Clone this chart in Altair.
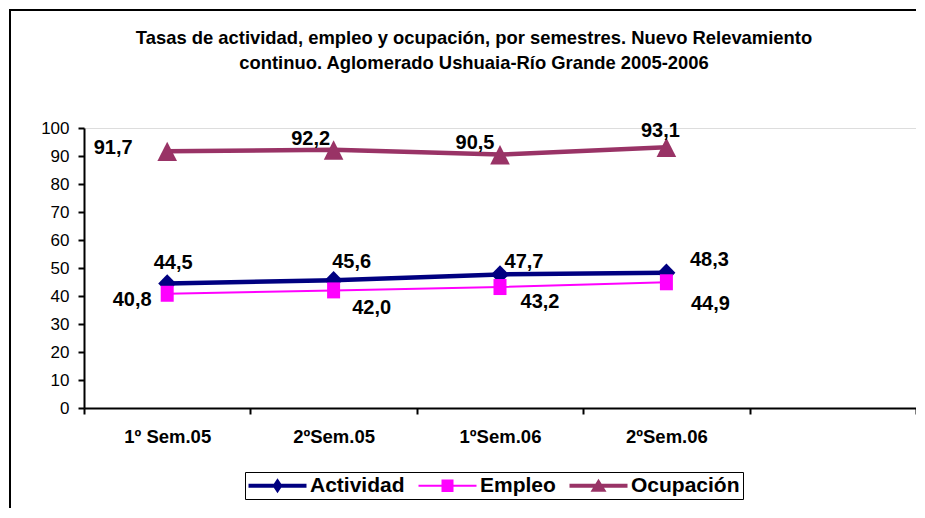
import altair as alt
import pandas as pd

# ---- data ----
semestres = ["1º Sem.05", "2ºSem.05", "1ºSem.06", "2ºSem.06"]
categoria_vacia = " "
series = ["Actividad", "Empleo", "Ocupación"]
actividad = [44.5, 45.6, 47.7, 48.3]
empleo = [40.8, 42.0, 43.2, 44.9]
ocupacion = [91.7, 92.2, 90.5, 93.1]

# manual data-label placement (pixel offsets from each point)
lab_dx_actividad = [6, 18, 24, 43]
lab_dy_actividad = [-20, -18, -12, -13]
lab_dx_empleo = [-35, 38, 40, 44]
lab_dy_empleo = [6, 18, 15, 22]
lab_dx_ocupacion = [-54, -23, -25, -6]
lab_dy_ocupacion = [-3, -11, -12, -16]

# ---- styles ----
colores = ["#000080", "#FF00FF", "#993366"]
grosores = [4.5, 2, 4.5]
marcadores = [
    "M0,-0.92L0.9,0L0,0.92L-0.9,0Z",
    "M-0.65,-0.8H0.65V0.8H-0.65Z",
    "M0,-0.95L0.98,0.98H-0.98Z",
]
simbolos_leyenda = [
    "M-2.9,-0.2H2.9V0.2H-2.9Z M0,-0.75L0.5,0L0,0.75L-0.5,0Z",
    "M-2.9,-0.1H2.9V0.1H-2.9Z M-0.6,-0.62H0.6V0.62H-0.6Z",
    "M-2.9,-0.2H2.9V0.2H-2.9Z M0,-0.7L0.8,0.6H-0.8Z",
]
FONT = "Liberation Sans"
W, H = 832, 280

valores = {"Actividad": actividad, "Empleo": empleo, "Ocupación": ocupacion}
offs = {
    "Actividad": (lab_dx_actividad, lab_dy_actividad),
    "Empleo": (lab_dx_empleo, lab_dy_empleo),
    "Ocupación": (lab_dx_ocupacion, lab_dy_ocupacion),
}
rows = []
for k, s in enumerate(series):
    for i, sem in enumerate(semestres):
        rows.append({"serie": s, "orden": k, "punto": i, "semestre": sem,
                     "valor": valores[s][i]})
df = pd.DataFrame(rows)

x_enc = alt.X(
    "semestre:N",
    bandPosition=0.5,
    scale=alt.Scale(type="band", domain=semestres + [categoria_vacia],
                    paddingInner=0, paddingOuter=0),
    axis=alt.Axis(title=None, tickBand="extent", labelAngle=0,
                  labelFont=FONT, labelFontSize=18.5, labelFontWeight="bold",
                  labelColor="black", labelPadding=13, tickSize=6,
                  tickColor="black", tickWidth=2, domainColor="black",
                  domainWidth=2, grid=False),
)
y_enc = alt.Y(
    "valor:Q",
    scale=alt.Scale(domain=[0, 100], nice=False),
    axis=alt.Axis(title=None, values=list(range(0, 101, 10)), grid=False,
                  labelFont=FONT, labelFontSize=17, labelColor="black",
                  labelPadding=9, tickSize=6, tickColor="black", tickWidth=2,
                  domainColor="black", domainWidth=2),
)

base = alt.Chart(df).encode(x=x_enc, y=y_enc)

capas = []
# lines
for k, s in enumerate(series):
    capas.append(
        base.transform_filter(alt.datum.serie == s)
        .mark_line(strokeWidth=grosores[k], color=colores[k])
    )
# markers
for k, s in enumerate(series):
    capas.append(
        base.transform_filter(alt.datum.serie == s).mark_point(
            filled=True, opacity=1, size=400, shape=marcadores[k],
            strokeWidth=0, color=colores[k], fill=colores[k]
        )
    )
# data labels
for k, s in enumerate(series):
    for i in range(len(semestres)):
        capas.append(
            base.transform_filter((alt.datum.serie == s) & (alt.datum.punto == i))
            .transform_calculate(etiqueta="replace(format(datum.valor, '.1f'), '.', ',')")
            .mark_text(font=FONT, fontSize=20, fontWeight="bold", color="black",
                       align="center", baseline="middle",
                       dx=offs[s][0][i], dy=offs[s][1][i])
            .encode(text="etiqueta:N")
        )

# legend (the only layer that encodes colour / shape)
leyenda_props = dict(
    title=None, orient="none", legendX=161, legendY=344, direction="horizontal",
    strokeColor="black", fillColor="white", padding=3,
    labelFont=FONT, labelFontSize=21, labelFontWeight="bold", labelColor="black",
    symbolSize=400, symbolOffset=19, labelOffset=22, columnPadding=13,
    symbolStrokeWidth=0, symbolOpacity=1,
)
leyenda = base.mark_point(filled=True, opacity=0, size=400).encode(
    color=alt.Color("serie:N", scale=alt.Scale(domain=series, range=colores),
                    legend=alt.Legend(**leyenda_props)),
    shape=alt.Shape("serie:N", scale=alt.Scale(domain=series, range=simbolos_leyenda),
                    legend=alt.Legend(**leyenda_props)),
)

marco = alt.Chart(pd.DataFrame({"m": [0]})).mark_rect(
    filled=False, stroke="black", strokeWidth=2
).encode(x=alt.value(-74), x2=alt.value(W + 200), y=alt.value(-118), y2=alt.value(H + 200))

titulo = alt.TitleParams(
    text=["Tasas de actividad, empleo y ocupación, por semestres. Nuevo Relevamiento",
          "continuo. Aglomerado Ushuaia-Río Grande 2005-2006"],
    font=FONT, fontSize=18.4, fontWeight="bold", color="black",
    anchor="middle", frame="group", dx=-26, offset=-63, lineHeight=25,
)

chart = alt.layer(marco, *capas, leyenda).properties(
    width=W, height=H, title=titulo,
    autosize=alt.AutoSizeParams(type="none"),
    padding={"left": 76, "top": 120, "right": 0, "bottom": 100},
).configure_view(stroke=None).configure(background="white")

chart.save("out.html", embed_options={"renderer": "svg", "actions": False})
